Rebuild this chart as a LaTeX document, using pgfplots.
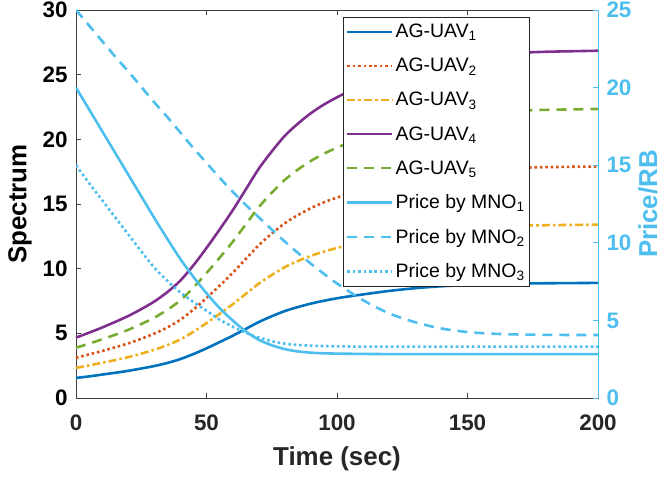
\documentclass[border=0pt]{standalone}
\usepackage{fontspec}
\setmainfont{Liberation Sans}
\usepackage{pgfplots}
\usepackage{pgfplotstable}
\pgfplotsset{compat=1.18}
\definecolor{cA}{HTML}{0072BD}
\definecolor{cB}{HTML}{D95319}
\definecolor{cC}{HTML}{EDB120}
\definecolor{cD}{HTML}{7E2F8E}
\definecolor{cE}{HTML}{77AC30}
\definecolor{cM}{HTML}{4DBEEE}
\definecolor{axc}{HTML}{404040}

\pgfplotstableread{
t u1 u2 u3 u4 u5
0 1.55 3.11 2.33 4.67 3.89
5 1.67 3.37 2.52 5.05 4.20
10 1.81 3.63 2.72 5.45 4.54
15 1.95 3.92 2.93 5.88 4.89
20 2.10 4.22 3.16 6.34 5.27
25 2.28 4.58 3.43 6.87 5.72
30 2.47 4.98 3.73 7.46 6.21
35 2.71 5.46 4.09 8.19 6.82
40 3.01 6.05 4.53 9.08 7.55
45 3.40 6.84 5.12 10.26 8.54
50 3.84 7.73 5.79 11.60 9.66
55 4.32 8.68 6.50 13.02 10.84
60 4.81 9.67 7.24 14.50 12.07
65 5.34 10.74 8.04 16.11 13.41
70 5.87 11.81 8.84 17.72 14.75
75 6.32 12.71 9.51 19.06 15.87
80 6.72 13.51 10.12 20.27 16.87
85 7.03 14.14 10.59 21.21 17.66
90 7.30 14.68 10.99 22.02 18.33
95 7.52 15.13 11.32 22.69 18.89
100 7.71 15.50 11.60 23.25 19.36
105 7.87 15.82 11.85 23.74 19.76
110 8.01 16.11 12.06 24.17 20.12
120 8.28 16.65 12.46 24.97 20.79
130 8.49 17.08 12.78 25.61 21.32
140 8.64 17.38 13.01 26.07 21.70
150 8.74 17.58 13.16 26.37 21.95
160 8.80 17.70 13.25 26.56 22.10
170 8.85 17.79 13.32 26.69 22.22
180 8.87 17.85 13.36 26.77 22.28
200 8.90 17.90 13.40 26.85 22.35
}\uavtable

\pgfplotstableread{
t p1 p2 p3
0 20.0 25.0 15.0
5 18.6 24.0 13.85
10 17.2 23.0 12.75
15 15.8 22.0 11.65
20 14.4 21.05 10.55
25 13.0 20.05 9.45
30 11.6 19.05 8.4
35 10.25 18.1 7.55
40 8.95 17.1 6.8
45 7.8 16.1 6.18
50 6.75 15.15 5.63
55 5.8 14.2 5.05
60 5.0 13.3 4.6
65 4.3 12.45 4.2
70 3.75 11.65 3.9
75 3.4 10.85 3.66
80 3.15 10.08 3.5
85 3.0 9.35 3.42
90 2.92 8.65 3.37
95 2.88 8.0 3.35
100 2.86 7.38 3.33
110 2.84 6.3 3.31
120 2.83 5.45 3.31
130 2.83 4.88 3.31
140 2.83 4.48 3.31
150 2.83 4.25 3.31
160 2.83 4.14 3.31
170 2.83 4.09 3.31
180 2.83 4.07 3.31
190 2.83 4.06 3.31
200 2.83 4.06 3.31
}\pricetable

\tikzset{
  lw/.style={line width=2.6pt},
  sA/.style={cA, lw, solid},
  sB/.style={cB, lw, dash pattern=on 2.6bp off 2.8bp},
  sC/.style={cC, lw, dash pattern=on 8bp off 3bp on 2.6bp off 3bp},
  sD/.style={cD, lw, solid},
  sE/.style={cE, lw, dash pattern=on 10bp off 7bp},
  sM1/.style={cM, lw, solid},
  sM2/.style={cM, lw, dash pattern=on 10bp off 7bp},
  sM3/.style={cM, lw, dash pattern=on 2.6bp off 2.8bp},
  tickfont/.style={font=\bfseries\fontsize{22.5}{22.5}\selectfont},
  labfont/.style={font=\bfseries\fontsize{26}{26}\selectfont},
}

\begin{document}
\begin{tikzpicture}
\begin{axis}[
  scale only axis, width=522bp, height=388bp,
  xmin=0, xmax=200, ymin=0, ymax=30,
  xtick={0,50,100,150,200}, ytick={0,5,...,30},
  ytick pos=left,
  tick align=inside,
  major tick length=5bp,
  axis line style={axc, line width=0.7pt},
  tick style={axc, line width=0.7pt},
  /pgf/number format/assume math mode=true,
  xticklabel style={tickfont, text=black!85, yshift=-13bp},
  yticklabel style={tickfont, text=black, xshift=-5bp},
  xlabel={Time (sec)}, ylabel={Spectrum},
  xlabel style={labfont, text=black!85, yshift=-9bp},
  ylabel style={labfont, text=black, yshift=4bp},
  clip=false,
]
\addplot[sA, smooth] table[x=t, y=u1] {\uavtable};
\addplot[sB, smooth] table[x=t, y=u2] {\uavtable};
\addplot[sC, smooth] table[x=t, y=u3] {\uavtable};
\addplot[sD, smooth] table[x=t, y=u4] {\uavtable};
\addplot[sE, smooth] table[x=t, y=u5] {\uavtable};
\coordinate (BL) at (rel axis cs:0,0);
\coordinate (TR) at (rel axis cs:1,1);
\end{axis}
\begin{axis}[
  scale only axis, width=522bp, height=388bp,
  xmin=0, xmax=200, ymin=0, ymax=25,
  axis x line=none, axis y line*=right,
  ytick={0,5,...,25},
  tick align=inside,
  major tick length=5bp,
  y axis line style={cM, line width=0.7pt},
  ytick style={cM, line width=0.7pt},
  /pgf/number format/assume math mode=true,
  yticklabel style={tickfont, text=cM, xshift=5bp},
  ylabel={Price/RB},
  ylabel style={labfont, text=cM},
  legend cell align=left,
  legend image code/.code={\draw[#1] (0bp,0bp) -- (45bp,0bp);},
  legend style={at={(rel axis cs:0.511,0.982)}, anchor=north west,
    font=\fontsize{19.5}{19.5}\selectfont, draw=black!85, line width=0.7pt,
    row sep=15bp, inner xsep=3bp, inner ysep=5bp, fill=white},
]
\addlegendimage{sA}\addlegendentry{AG-UAV\textsubscript{1}}
\addlegendimage{sB}\addlegendentry{AG-UAV\textsubscript{2}}
\addlegendimage{sC}\addlegendentry{AG-UAV\textsubscript{3}}
\addlegendimage{sD}\addlegendentry{AG-UAV\textsubscript{4}}
\addlegendimage{sE}\addlegendentry{AG-UAV\textsubscript{5}}
\addplot[sM1, smooth] table[x=t, y=p1] {\pricetable};
\addlegendentry{Price by MNO\textsubscript{1}}
\addplot[sM2, smooth] table[x=t, y=p2] {\pricetable};
\addlegendentry{Price by MNO\textsubscript{2}}
\addplot[sM3, smooth] table[x=t, y=p3] {\pricetable};
\addlegendentry{Price by MNO\textsubscript{3}}
\end{axis}
\pgfresetboundingbox
\path[use as bounding box] ([xshift=-76bp,yshift=-80bp]BL) rectangle ([xshift=67bp,yshift=10bp]TR);
\end{tikzpicture}
\end{document}
